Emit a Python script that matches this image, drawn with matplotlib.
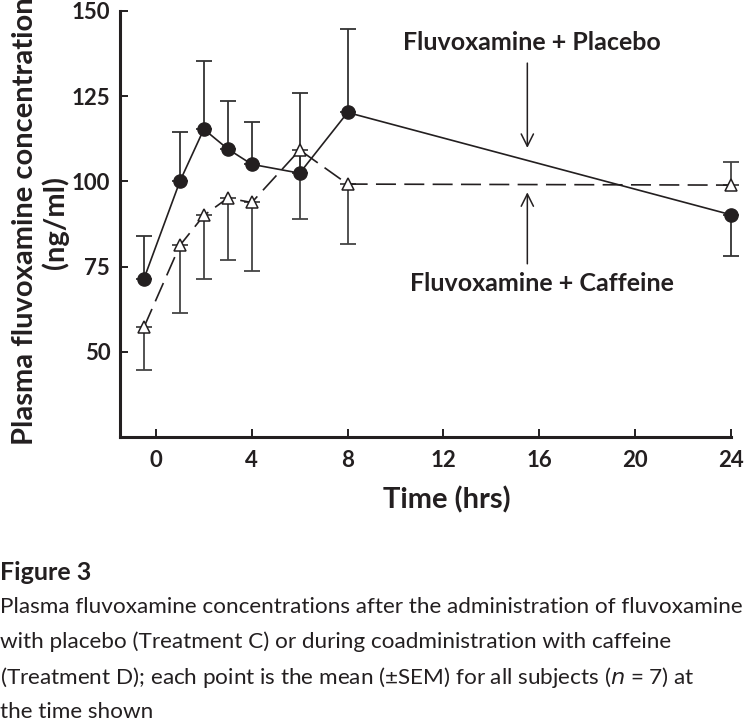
import numpy as np
import matplotlib.pyplot as plt

# data
time = [-0.5, 1, 2, 3, 4, 6, 8, 24]
placebo = [71.4, 100.0, 115.3, 109.5, 105.0, 102.4, 120.2, 90.2]
placebo_err_lo = [0, 0, 0, 0, 0, 0, 0, 12.0]
placebo_err_hi = [12.6, 14.4, 20.0, 14.2, 12.4, 23.4, 24.4, 0]
caffeine = [57.2, 81.2, 90.0, 95.1, 93.8, 109.2, 99.2, 98.9]
caffeine_err_lo = [12.4, 19.9, 18.7, 18.1, 20.0, 20.1, 17.5, 0]
caffeine_err_hi = [0, 0, 0, 0, 0, 0, 0, 6.7]
xticks = [0, 4, 8, 12, 16, 20, 24]
yticks = [50, 75, 100, 125, 150]

caption_lines = [
    "Plasma fluvoxamine concentrations after the administration of fluvoxamine",
    "with placebo (Treatment C) or during coadministration with caffeine",
    "(Treatment D); each point is the mean (\u00b1SEM) for all subjects ($\\it{n}$ = 7) at",
    "the time shown",
]

plt.rcParams['font.family'] = ['Lato', 'DejaVu Sans']
ink = '#231f20'

fig = plt.figure(figsize=(7.47, 7.26), dpi=100)
ax = fig.add_axes([0.1606, 0.398, 0.8180, 0.587])

ax.errorbar(time, caffeine, yerr=[caffeine_err_lo, caffeine_err_hi], fmt='none',
            ecolor='#444444', elinewidth=1.3, capsize=6, capthick=1.3, zorder=2,
            clip_on=False)
ax.errorbar(time, placebo, yerr=[placebo_err_lo, placebo_err_hi], fmt='none',
            ecolor='#333333', elinewidth=1.3, capsize=6, capthick=1.3, zorder=2,
            clip_on=False)
ax.plot(time, caffeine, color=ink, lw=1.2, dashes=(12, 5), marker='^', ms=9,
        mfc='white', mec=ink, mew=1.1, zorder=3, clip_on=False)
ax.plot(time, placebo, color=ink, lw=1.2, marker='o', ms=9.5,
        mfc=ink, mec=ink, zorder=4, clip_on=False)

ax.annotate('', xy=(15.5, 109), xytext=(15.5, 135.5),
            arrowprops=dict(arrowstyle='->', color=ink, lw=1.1, mutation_scale=22))
ax.annotate('', xy=(15.5, 97.6), xytext=(15.5, 75),
            arrowprops=dict(arrowstyle='->', color=ink, lw=1.1, mutation_scale=22))
ax.text(15.7, 140.8, 'Fluvoxamine + Placebo', ha='center', va='center',
        fontsize=18, fontweight='bold', color=ink)
ax.text(16.1, 70.0, 'Fluvoxamine + Caffeine', ha='center', va='center',
        fontsize=18, fontweight='bold', color=ink)

ax.set_xlim(-1.5, 24)
ax.set_ylim(25, 150)
ax.set_xticks(xticks)
ax.set_yticks(yticks)
for s in ['top', 'right']:
    ax.spines[s].set_visible(False)
for s in ['left', 'bottom']:
    ax.spines[s].set_linewidth(2.2)
    ax.spines[s].set_color(ink)
ax.tick_params(direction='in', length=6, width=1.4, colors=ink, labelsize=16)
ax.tick_params(axis='x', pad=9)
ax.tick_params(axis='y', pad=7)
for lab in ax.get_xticklabels() + ax.get_yticklabels():
    lab.set_fontweight('bold')

ax.set_xlabel('Time (hrs)', fontsize=21, fontweight='bold', color=ink)
ax.xaxis.set_label_coords(0.535, -0.115)
fig.text(0.034, 0.387, 'Plasma fluvoxamine concentration', rotation=90,
         ha='center', va='bottom', fontsize=21, fontweight='bold', color=ink)
fig.text(0.074, 0.693, '(ng/ml)', rotation=90, ha='center', va='center',
         fontsize=21, fontweight='bold', color=ink)

fig.text(0.0, 1 - 572 / 726, 'Figure 3', ha='left', va='center', fontsize=18,
         fontweight='bold', color=ink)
for i, line in enumerate(caption_lines):
    fig.text(0.0, 1 - (607 + 35 * i) / 726, line, ha='left', va='center',
             fontsize=16.2, color=ink)

fig.savefig('out.png', dpi=100)
